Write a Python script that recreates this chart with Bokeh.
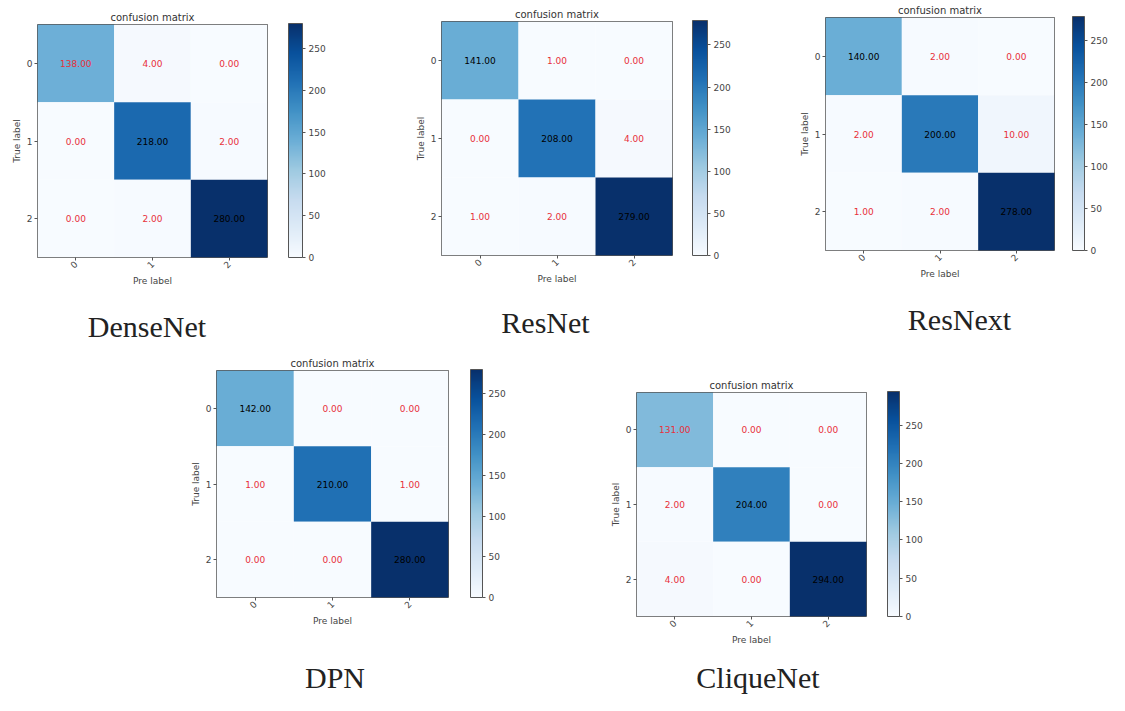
import math
from bokeh.plotting import figure
from bokeh.models import (ColumnDataSource, LinearColorMapper, ColorBar, FixedTicker,
                          Div, Spacer, Range1d)
from bokeh.layouts import row, column
from bokeh.palettes import Blues256
from bokeh.embed import file_html
from bokeh.resources import INLINE
from bokeh.core.properties import value

# ---------------- data ----------------
labels = ["0", "1", "2"]
models = ["DenseNet", "ResNet", "ResNext", "DPN", "CliqueNet"]
densenet = [[138, 4, 0], [0, 218, 2], [0, 2, 280]]
resnet = [[141, 1, 0], [0, 208, 4], [1, 2, 279]]
resnext = [[140, 2, 0], [2, 200, 10], [1, 2, 278]]
dpn = [[142, 0, 0], [1, 210, 1], [0, 0, 280]]
cliquenet = [[131, 0, 0], [2, 204, 0], [4, 0, 294]]
colorbar_ticks = [0, 50, 100, 150, 200, 250]

FONT = "DejaVu Sans"
GRAY = "#555555"
TXT = "#444444"
TOP = 16
LEFT = 25
BOTTOM = 32
NAME_H = 30


def panel(name, cm, fw, fh, right, cb_gap, cb_w, name_dx, name_gap, pad_top):
    n = len(labels)
    xs, ys, vals, txt, col = [], [], [], [], []
    vmax = max(max(r) for r in cm)
    thresh = vmax / 2.0
    for i in range(n):
        for j in range(n):
            xs.append(j)
            ys.append(i)
            vals.append(cm[i][j])
            txt.append("%.2f" % cm[i][j])
            col.append("black" if cm[i][j] > thresh else "#e8303a")
    src = ColumnDataSource(dict(x=xs, y=ys, v=vals, t=txt, c=col))
    mapper = LinearColorMapper(palette=list(reversed(Blues256)), low=0, high=vmax)

    width = LEFT + fw + right
    p = figure(width=width, height=TOP + fh + BOTTOM,
               x_range=Range1d(-0.5, n - 0.5), y_range=Range1d(n - 0.5, -0.5),
               output_backend="svg", toolbar_location=None,
               min_border_left=LEFT, min_border_right=right,
               min_border_top=TOP, min_border_bottom=BOTTOM)
    p.rect(x="x", y="y", width=1, height=1, source=src,
           fill_color={"field": "v", "transform": mapper}, line_color=None)
    p.text(x="x", y="y", text="t", text_color="c", source=src,
           text_align="center", text_baseline="middle",
           text_font_size="9px", text_font=value(FONT))

    p.title.text = "confusion matrix"
    p.title.align = "center"
    p.title.text_font = FONT
    p.title.text_font_size = "10px"
    p.title.text_font_style = "normal"
    p.title.text_color = "#333333"
    p.title.standoff = 4

    p.grid.visible = False
    p.outline_line_color = GRAY
    p.outline_line_width = 1
    p.background_fill_color = "white"
    p.border_fill_color = "white"

    ticks = list(range(n))
    overrides = {i: lab for i, lab in enumerate(labels)}
    for ax in (p.xaxis[0], p.yaxis[0]):
        ax.ticker = FixedTicker(ticks=ticks)
        ax.major_label_overrides = overrides
        ax.axis_line_color = None
        ax.major_tick_line_color = GRAY
        ax.major_tick_out = 3
        ax.major_tick_in = 0
        ax.minor_tick_line_color = None
        ax.major_label_text_font = FONT
        ax.major_label_text_font_size = "9px"
        ax.major_label_text_color = TXT
        ax.axis_label_text_font = FONT
        ax.axis_label_text_font_size = "9px"
        ax.axis_label_text_font_style = "normal"
        ax.axis_label_text_color = TXT
        ax.major_label_standoff = 2
        ax.axis_label_standoff = 2
    p.xaxis.axis_label = "Pre label"
    p.yaxis.axis_label = "True label"
    p.xaxis.major_label_orientation = math.pi / 4

    cb = ColorBar(color_mapper=mapper, location=(fw + cb_gap, 0), width=cb_w, height=fh,
                  margin=0, padding=0, ticker=FixedTicker(ticks=colorbar_ticks),
                  bar_line_color=GRAY, major_tick_line_color=GRAY,
                  major_tick_in=0, major_tick_out=3, minor_tick_line_color=None,
                  label_standoff=3, major_label_text_font=FONT,
                  major_label_text_font_size="9px", major_label_text_color=TXT,
                  background_fill_color=None, border_line_color=None)
    p.add_layout(cb, "center")

    # model name under the panel, centred on the plot frame
    name_html = (
        '<div style="width:%dpx;padding-left:%dpx;box-sizing:border-box;text-align:center;'
        "font-family:'Liberation Serif';font-size:30px;line-height:%dpx;color:#222222;"
        'white-space:nowrap;">'
        '<span style="position:relative;left:%dpx;">%s</span></div>'
        % (LEFT + fw, LEFT, NAME_H, name_dx, name)
    )
    div = Div(text=name_html, width=width, height=NAME_H, margin=0)

    parts = []
    if pad_top > 0:
        parts.append(Spacer(height=pad_top))
    parts.append(p)
    if name_gap > 0:
        parts.append(Spacer(height=name_gap))
    parts.append(div)
    return column(*parts)


# row 1
c1 = panel(models[0], densenet, 234, 234, 60, 17, 14, -3, 23, 7)
c2 = panel(models[1], resnet, 235, 235, 60, 16, 15, -9, 21, 4)
c3 = panel(models[2], resnext, 233, 234, 55, 14, 12, 22, 23, 0)
# row 2
c4 = panel(models[3], dpn, 236, 228, 60, 18, 12, 5, 34, 11)
c5 = panel(models[4], cliquenet, 234, 225, 60, 17, 12, 9, 15, 33)

row1 = row(Spacer(width=8), c1, Spacer(width=85), c2, Spacer(width=64), c3)
row2 = row(Spacer(width=187), c4, Spacer(width=99), c5)
layout = column(row1, row2)

open("out.html", "w").write(file_html(layout, INLINE))
